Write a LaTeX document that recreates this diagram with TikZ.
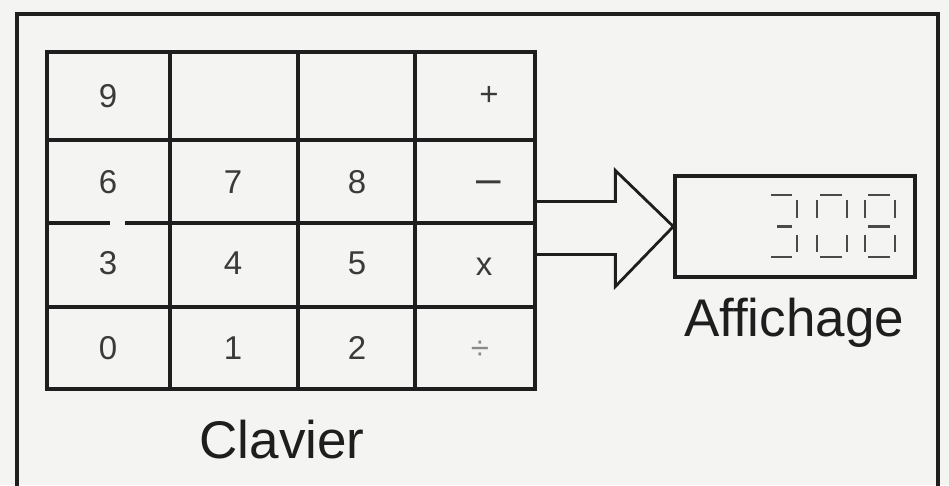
\documentclass[tikz,border=0pt]{standalone}
\usepackage{fontspec}
\setmainfont{Liberation Sans}
\usetikzlibrary{calc}
\definecolor{paper}{HTML}{F4F4F2}
\definecolor{ink}{HTML}{1E1E1E}
\definecolor{keyink}{HTML}{3A3A3A}
\definecolor{segink}{HTML}{4A4A4A}
\tikzset{
  frameline/.style={draw=ink, line width=3.8pt},
  gridline/.style={draw=ink, line width=3.3pt},
  keylabel/.style={text=keyink, font=\fontsize{33}{33}\selectfont, inner sep=0pt},
  caption/.style={text=ink, font=\fontsize{53}{53}\selectfont, inner sep=0pt},
  segline/.style={draw=segink, line width=2.3pt},
  blockarrow/.style={draw=ink, line width=2.8pt, line join=miter},
}
% seven-segment strokes: #1 = digit width, height fixed at 62
\def\segA#1{\draw[segline] (3,0) -- (#1-5,0);}
\def\segB#1{\draw[segline] (#1,5) -- (#1,23);}
\def\segC#1{\draw[segline] (#1,40) -- (#1,57);}
\def\segD#1{\draw[segline] (3,62) -- (#1-5,62);}
\def\segE#1{\draw[segline] (0,40) -- (0,57);}
\def\segF#1{\draw[segline] (0,5) -- (0,23);}
\def\segG#1{\draw[segline] (3,31.5) -- (#1-5,31.5);}
\def\segH#1{\draw[segline] (9,31.5) -- (#1-5,31.5);}
\newcommand{\sevenseg}[3]{%
  \begin{scope}[shift={(#1,195)}]
    \foreach \s in {#3} {\csname seg\s\endcsname{#2}}
  \end{scope}}
\begin{document}
\begin{tikzpicture}[x=1pt, y=-1pt]
  \useasboundingbox (0,0) rectangle (949,485);
  \fill[paper] (0,0) rectangle (949,485);
  \clip (0,0) rectangle (949,485);

  % outer frame, open at the bottom edge
  \draw[frameline] (17,500) -- (17,14) -- (938,14) -- (938,500);

  % keypad
  \node[gridline, minimum width=488pt, minimum height=337pt, inner sep=0pt]
    (kbd) at (291,220.5) {};
  \draw[gridline] (170,52) -- (170,389);
  \draw[gridline] (298,52) -- (298,389);
  \draw[gridline] (415,52) -- (415,389);
  \draw[gridline] (47,140) -- (535,140);
  \draw[gridline] (47,223) -- (110,223);
  \draw[gridline] (125,223) -- (535,223);
  \draw[gridline] (47,307) -- (535,307);

  \node[keylabel] (k9) at (108,96) {9};
  \node[keylabel] (kplus) at (489,96) {+};
  \node[keylabel] (k6) at (108,182) {6};
  \node[keylabel] (k7) at (233,182) {7};
  \node[keylabel] (k8) at (357,182) {8};
  \node[keylabel, font=\fontsize{44}{44}\selectfont, anchor=base] (kminus) at (489,193) {–};
  \node[keylabel] (k3) at (108,263) {3};
  \node[keylabel] (k4) at (233,263) {4};
  \node[keylabel] (k5) at (357,263) {5};
  \node[keylabel] (ktimes) at (484,267) {x};
  \node[keylabel] (k0) at (108,348) {0};
  \node[keylabel] (k1) at (233,348) {1};
  \node[keylabel] (k2) at (357,348) {2};
  \node[keylabel, text=keyink!60] (kdiv) at (480,350) {÷};

  \node[caption, anchor=base] (clavierlbl) at (282,458) {Clavier};

  % display
  \node[gridline, minimum width=240pt, minimum height=101pt, inner sep=0pt]
    (ecran) at (795,226.5) {};
  \sevenseg{768}{29}{A,B,C,D,H}
  \sevenseg{817}{30}{A,B,C,D,E,F}
  \sevenseg{865}{30}{A,B,C,D,E,F,G}
  \node[caption, anchor=base] (affichagelbl) at (794,336) {Affichage};

  % hollow block arrow from keypad to display
  \coordinate (tip) at (ecran.west);
  \draw[blockarrow]
    ($(kbd.east |- tip)+(0,-25)$) -- ($(tip)+(-58,-25)$) -- ($(tip)+(-58,-56)$)
    -- (tip)
    -- ($(tip)+(-58,60)$) -- ($(tip)+(-58,28)$) -- ($(kbd.east |- tip)+(0,28)$);
\end{tikzpicture}
\end{document}
